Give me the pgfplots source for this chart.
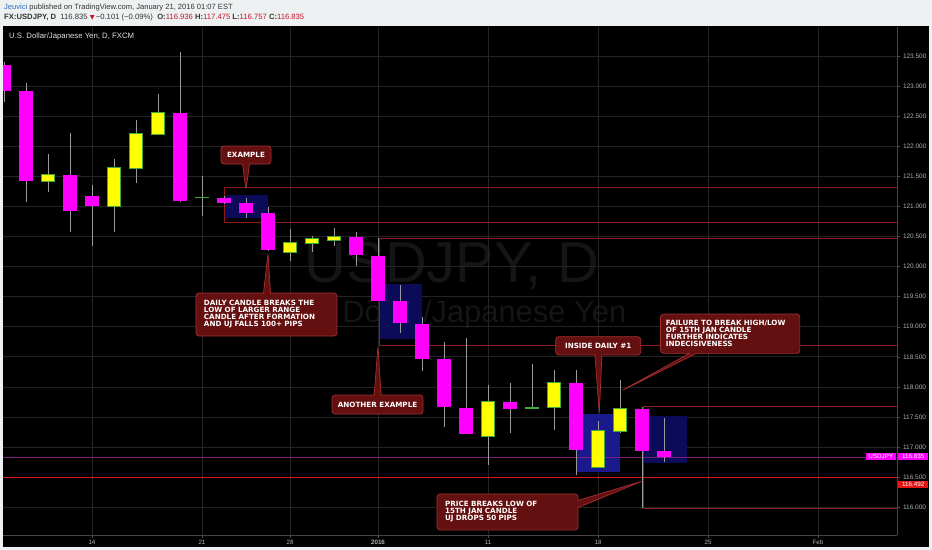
\documentclass[border=0pt]{standalone}
\usepackage{fontspec}
\setmainfont{Liberation Sans}
\newfontfamily\dvfont{DejaVu Sans}
\usepackage{pgfplots}
\usepackage{pgfplotstable}
\pgfplotsset{compat=1.18}
\usetikzlibrary{shapes.callouts}

% colours
\definecolor{frame}{HTML}{EEF1F2}
\definecolor{gridc}{HTML}{242424}
\definecolor{wick}{HTML}{9A9A9A}
\definecolor{downc}{HTML}{FF00FF}
\definecolor{upc}{HTML}{FFFF00}
\definecolor{upedge}{HTML}{3FA83F}
\definecolor{boxblue}{HTML}{0B0B5A}
\definecolor{boxblue2}{HTML}{1A1A8E}
\definecolor{lvl}{HTML}{8C1C1C}
\definecolor{support}{HTML}{E31414}
\definecolor{pline}{HTML}{7A1F7A}
\definecolor{calfill}{HTML}{651010}
\definecolor{caledge}{HTML}{A33030}
\definecolor{tvblue}{HTML}{2A6EBB}
\definecolor{tvred}{HTML}{C0142B}
\definecolor{hdr}{HTML}{333333}
\definecolor{axtext}{HTML}{B0B0B0}
\definecolor{wmark}{HTML}{151515}

% USDJPY daily, index 0 = Mon 14 Dec 2015 (weekend / holiday gaps skipped)
% down days (close < open)
\pgfplotstableread{
i  o       h       l       c
-4 123.355 123.40  122.745 122.92
-3 122.92  123.06  121.08  121.43
-1 121.52  122.22  120.58  120.93
0  121.18  121.36  120.35  121.01
4  122.55  123.58  121.07  121.10
6  121.15  121.17  121.04  121.06
7  121.06  121.14  120.81  120.90
8  120.90  120.99  120.26  120.27
12 120.50  120.58  120.01  120.19
13 120.18  120.47  119.43  119.43
14 119.43  119.69  118.89  119.06
15 119.05  119.17  118.27  118.46
16 118.46  118.75  117.34  117.66
17 117.65  118.81  117.21  117.21
19 117.74  118.07  117.24  117.63
22 118.06  118.28  116.53  116.95
25 117.63  117.67  115.98  116.94
26 116.936 117.475 116.757 116.835
}\downs
% up days
\pgfplotstableread{
i  o       h       l       c
-2 121.43  121.87  121.25  121.52
1  121.01  121.79  120.58  121.64
2  121.64  122.44  121.39  122.20
3  122.20  122.87  122.20  122.55
9  120.25  120.63  120.10  120.40
10 120.40  120.51  120.25  120.46
11 120.45  120.65  120.35  120.50
18 117.18  118.03  116.70  117.75
21 117.66  118.28  117.29  118.06
23 116.66  117.44  116.66  117.27
24 117.27  118.11  117.24  117.63
}\ups
% dojis
\pgfplotstableread{
i  o       h       l       c
5  121.15  121.51  120.85  121.15
20 117.65  118.38  117.63  117.65
}\dojis

\tikzset{
  note/.style={rectangle callout, fill=calfill, draw=caledge, line width=0.7bp,
    rounded corners=3bp, text=white, inner sep=0pt, callout pointer width=7bp,
    font=\dvfont\bfseries\fontsize{7.2}{7}\selectfont},
}

\begin{document}
\begin{tikzpicture}
\fill[frame] (0,0) rectangle (932bp,550bp);
\fill[black] (3bp,3bp) rectangle (929bp,524bp);

% header
\node[anchor=base west, inner sep=0, text=hdr, font=\fontsize{7.6}{8}\selectfont] at (4bp,540.5bp)
  {{\color{tvblue}Jeuvici} published on TradingView.com, January 21, 2016 01:07 EST};
\node[anchor=base west, inner sep=0, text=hdr, font=\fontsize{7.7}{8}\selectfont] at (4bp,530.7bp)
  {\textbf{FX:USDJPY, D}\ \ 116.835 {\color{tvred}\dvfont\fontsize{6.3}{6}\selectfont ▼}\,−0.101 (−0.09\%)\ \
   \textbf{O:}{\color{tvred}116.936} \textbf{H:}{\color{tvred}117.475} \textbf{L:}{\color{tvred}116.757} \textbf{C:}{\color{tvred}116.835}};

% watermark
\node[anchor=base, inner sep=0, text=wmark, font=\fontsize{58}{58}\selectfont] at (452bp,267bp) {USDJPY, D};
\node[anchor=base, inner sep=0, text=wmark, font=\fontsize{31}{31}\selectfont] at (450bp,227bp) {U.S. Dollar/Japanese Yen};

\begin{axis}[
  at={(3bp,15bp)}, anchor=south west, scale only axis,
  width=894bp, height=508bp,
  xmin=-4.045, xmax=36.59, ymin=115.535, ymax=123.988,
  axis x line*=bottom, axis y line*=right,
  axis line style={draw=gray!55!black, line width=0.8bp, -},
  clip mode=individual,
  grid=major, major grid style={draw=gridc, line width=0.7bp},
  tick style={draw=gray!60!black, line width=0.5bp}, major tick length=2.5bp, tick align=outside,
  xtick={0,5,9,13,18,23,28,33},
  xticklabels={14,21,28,\textbf{2016},11,18,25,Feb},
  ytick={116,116.5,117,117.5,118,118.5,119,119.5,120,120.5,121,121.5,122,122.5,123,123.5},
  xticklabel style={font=\fontsize{6.3}{7}\selectfont, text=axtext, yshift=1bp},
  yticklabel style={font=\fontsize{6.5}{7}\selectfont, text=axtext},
  /pgf/number format/fixed, /pgf/number format/fixed zerofill,
  /pgf/number format/precision=3, /pgf/number format/assume math mode=true,
]
% marked zones
\addplot[fill=boxblue, draw=none] coordinates {(6,121.19) (8.01,121.19) (8.01,120.805) (6,120.805)} -- cycle;
\addplot[fill=boxblue, draw=none] coordinates {(13.05,119.71) (14.99,119.71) (14.99,118.79) (13.05,118.79)} -- cycle;
\addplot[fill=boxblue2, draw=none] coordinates {(22.03,117.55) (24.0,117.55) (24.0,116.575) (22.03,116.575)} -- cycle;
\addplot[fill=boxblue, draw=none] coordinates {(25.06,117.515) (27.03,117.515) (27.03,116.74) (25.06,116.74)} -- cycle;

% range levels
\addplot[lvl, line width=0.8bp] coordinates {(36.59,121.32) (6,121.32) (6,120.73) (36.59,120.73)};
\addplot[lvl, line width=0.8bp] coordinates {(36.59,120.47) (13.05,120.47) (13.05,118.69) (36.59,118.69)};
\addplot[lvl, line width=0.8bp] coordinates {(36.59,117.68) (25.05,117.68) (25.05,115.98) (36.59,115.98)};
\addplot[pline, line width=0.6bp] coordinates {(-4.045,116.835) (36.59,116.835)};
\addplot[support, line width=1.6bp] coordinates {(-4.045,116.492) (36.59,116.492)};

% wicks
\addplot[wick, line width=0.9bp, quiver={u=0, v=\thisrow{h}-\thisrow{l}}] table[x=i, y=l] {\downs};
\addplot[wick, line width=0.9bp, quiver={u=0, v=\thisrow{h}-\thisrow{l}}] table[x=i, y=l] {\ups};
\addplot[wick, line width=0.9bp, quiver={u=0, v=\thisrow{h}-\thisrow{l}}] table[x=i, y=l] {\dojis};

% bodies
\addplot[downc, line width=13.5bp, quiver={u=0, v=\thisrow{c}-\thisrow{o}}] table[x=i, y=o] {\downs};
\addplot[upedge, line width=14bp, quiver={u=0, v=\thisrow{c}-\thisrow{o}+0.034}] table[x=i, y expr=\thisrow{o}-0.017] {\ups};
\addplot[upc, line width=12.2bp, quiver={u=0, v=\thisrow{c}-\thisrow{o}}] table[x=i, y=o] {\ups};
\addplot[upedge, line width=14bp, quiver={u=0, v=0.03}] table[x=i, y expr=\thisrow{o}-0.015] {\dojis};

% price tags
\node[anchor=west, fill=downc, text=white, inner xsep=2bp, inner ysep=1.2bp, minimum width=30bp,
  font=\fontsize{6.3}{7}\selectfont, xshift=1bp] at (axis cs:36.59,116.844) {116.835};
\node[anchor=east, fill=downc, text=white, inner xsep=2bp, inner ysep=1.2bp, minimum width=30bp,
  font=\fontsize{6.3}{7}\selectfont, xshift=-1bp] at (axis cs:36.59,116.844) {USDJPY};
\node[anchor=west, fill=support, text=white, inner xsep=2bp, inner ysep=1.2bp, minimum width=30bp,
  font=\fontsize{6.3}{7}\selectfont, xshift=1bp] at (axis cs:36.59,116.37) {116.492};

% notes
\node[note, minimum width=50bp, minimum height=18bp, callout absolute pointer={(axis cs:7,121.28)}]
  at (axis cs:7,121.858) {EXAMPLE};
\node[note, minimum width=141bp, minimum height=43bp, text width=125bp, align=left,
  callout absolute pointer={(axis cs:8.0,120.227)}] at (axis cs:7.93,119.204)
  {DAILY CANDLE BREAKS THE\\LOW OF LARGER RANGE\\CANDLE AFTER FORMATION\\AND UJ FALLS 100+ PIPS};
\node[note, minimum width=91bp, minimum height=19bp, callout absolute pointer={(axis cs:13.0,118.68)}]
  at (axis cs:12.98,117.706) {ANOTHER EXAMPLE};
\node[note, minimum width=85bp, minimum height=18.3bp, callout absolute pointer={(axis cs:23.06,117.56)}]
  at (axis cs:23.01,118.683) {INSIDE DAILY \#1};
\node[note, minimum width=139.3bp, minimum height=39.3bp, text width=128.6bp, align=left,
  callout absolute pointer={(axis cs:24.05,117.93)}] at (axis cs:29.01,118.884)
  {FAILURE TO BREAK HIGH/LOW\\OF 15TH JAN CANDLE\\FURTHER INDICATES\\INDECISIVENESS};
\node[note, minimum width=141bp, minimum height=36bp, text width=125bp, align=left,
  callout absolute pointer={(axis cs:25.0,116.43)}] at (axis cs:18.89,115.918)
  {PRICE BREAKS LOW OF\\15TH JAN CANDLE\\UJ DROPS 50 PIPS};
\end{axis}

\node[anchor=base west, inner sep=0, text=white!88!black, font=\fontsize{7.8}{8}\selectfont] at (9bp,511.5bp)
  {U.S. Dollar/Japanese Yen, D, FXCM};

\pgfresetboundingbox
\useasboundingbox (0,0) rectangle (932bp,550bp);
\end{tikzpicture}
\end{document}
